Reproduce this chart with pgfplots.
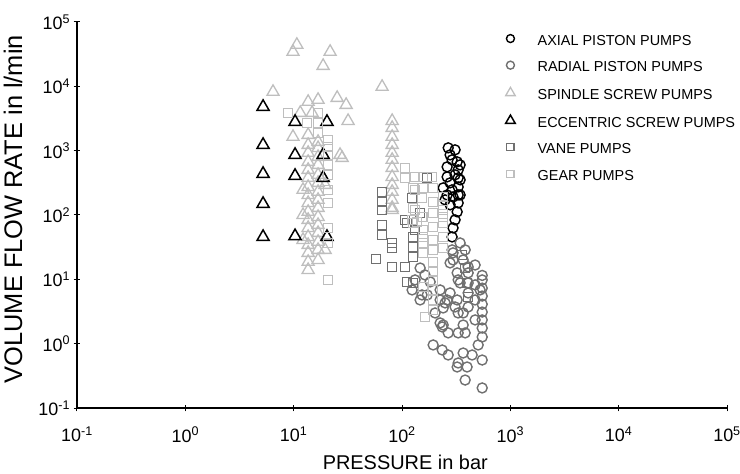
\documentclass[border=0pt]{standalone}
\usepackage{fontspec}
\setmainfont{Liberation Sans}
\usepackage{pgfplots}
\pgfplotsset{compat=1.18}

\definecolor{darkg}{HTML}{707070}
\definecolor{lightg}{HTML}{BEBEBE}

% pressure in bar, flow rate in l/min
\pgfplotstableread{
p q
267 1106
278 860
323 670
330 503
330 378
330 273
330 205
330 154
323 112
309 84
296 63
290 45.6
261 560
261 391
240 264
261 205
278 316
290 246
309 421
250 172
278 144
296 191
344 352
344 205
344 601
290 720
309 1030
}\axial

\pgfplotstableread{
p q
124 6.84
153 5.72
132 9.80
163 11.7
147 15.0
225 6.84
225 4.78
240 3.59
261 4.78
225 2.10
235 1.82
267 1.47
194 0.955
235 0.798
267 0.667
323 0.434
296 25.8
278 18.0
330 9.80
323 4.78
330 3.00
330 1.47
330 0.501
344 36.8
383 28.7
367 20.0
408 15.6
408 12.6
408 8.80
408 6.14
408 3.72
367 3.00
367 1.95
383 1.47
367 0.716
399 0.434
383 0.272
290 28.7
296 20.0
323 12.6
344 8.80
278 6.14
250 4.30
309 3.72
202 3.00
240 1.95
171 5.72
147 4.78
182 9.12
473 16.7
473 8.2
473 4.78
473 2.34
526 6.84
550 11.5
550 9.80
550 7.3
550 5.5
550 4.1
550 3.1
550 2.34
550 1.75
550 1.27
550 0.557
550 0.205
505 0.955
444 0.667
}\radial

\pgfplotstableread{
p q
10.7 44200
9.86 34400
21.7 34400
18.7 20800
6.45 8210
65.5 9820
13.6 5740
16.8 6170
25.2 6620
30.5 5150
31.8 2900
11.5 3870
14.8 3870
9.86 1640
13.6 1760
13.6 1230
16.8 1370
16.8 1100
26.8 860
28.0 773
13.6 925
13.6 670
13.6 503
13.6 378
13.6 273
13.6 205
13.6 154
13.6 112
13.6 84
13.6 63
13.6 45.6
13.6 34.3
13.6 25.8
13.6 18.7
13.6 14.0
16.8 800
16.8 601
16.8 421
16.8 316
16.8 229
16.8 172
16.8 129
16.8 93.4
16.8 70.2
16.8 52.7
16.8 38.3
16.8 28.7
16.8 20.0
12.2 246
12.2 100
12.2 41
19.5 294
19.5 28.7
81.1 2900
81.1 2260
81.1 1640
81.1 1230
81.1 925
81.1 720
81.1 540
81.1 391
81.1 294
81.1 229
81.1 172
81.1 129
81.1 120
}\spindle

\pgfplotstableread{
p q
5.22 4800
5.22 1230
5.22 436
5.22 149
5.22 45.6
10.3 2800
10.3 860
10.3 406
10.3 47
20.3 2800
18.7 860
18.7 378
20.3 45.6
}\eccentric

\pgfplotstableread{
p q
65.5 229
65.5 160
65.5 120
65.5 70.2
65.5 49.0
81.1 36.8
81.1 30.8
57.7 20.7
81.1 15.6
107 15.6
111 9.12
127 8.80
124 184
111 75.4
127 45.6
127 31.9
127 22.3
171 378
147 108
107 83.9
132 58.6
359 24.0
383 15.0
399 8.8
408 5.32
}\vane

\pgfplotstableread{
p q
8.87 3870
13.3 2710
16.8 3870
16.8 2710
16.8 1890
20.8 1470
20.8 1150
20.8 860
20.8 601
20.8 421
20.8 246
20.8 154
20.8 63
20.8 36.8
20.8 9.8
107 541
132 391
157 391
190 391
240 191
132 246
157 264
194 264
194 160
132 120
240 120
157 93.4
194 108
240 75.4
194 65.3
157 58.6
127 75.4
240 45.6
194 41.0
157 36.8
194 28.7
240 30.8
194 18.7
194 13.1
157 7.62
194 9.80
194 6.84
194 4.78
194 3.34
163 2.60
240 144
240 93.4
138 78.2
107 378
127 264
153 184
127 129
153 93.4
124 83.9
157 45.6
157 25.8
}\gear

\pgfplotsset{
    legmark/.style={legend image code/.code={
        \path (-6bp,-1bp) (27bp,1bp);
        \draw[##1, mark size=#1] plot coordinates {(0bp,2.6bp)};}},
}

\begin{document}
\begin{tikzpicture}
\begin{axis}[
    scale only axis,
    width=650bp, height=386bp,
    xmode=log, ymode=log,
    xmin=0.1, xmax=100000, ymin=0.1, ymax=100000,
    axis lines=left,
    axis line style={-, line width=1.2bp},
    xminorticks=false, yminorticks=false,
    tick align=center,
    major tick length=7bp,
    tick style={black, line width=1bp},
    xtick={0.1,1,10,100,1000,10000,100000},
    ytick={0.1,1,10,100,1000,10000,100000},
    xticklabels={10\textsuperscript{-1},10\textsuperscript{0},10\textsuperscript{1},10\textsuperscript{2},10\textsuperscript{3},10\textsuperscript{4},10\textsuperscript{5}},
    yticklabels={10\textsuperscript{-1},10\textsuperscript{0},10\textsuperscript{1},10\textsuperscript{2},10\textsuperscript{3},10\textsuperscript{4},10\textsuperscript{5}},
    ticklabel style={font=\fontsize{18}{20}\selectfont},
    xticklabel style={yshift=-12bp},
    xlabel={PRESSURE in bar},
    ylabel={VOLUME FLOW RATE in l/min},
    every axis x label/.style={at={(axis description cs:0.505,-0.14)}, anchor=center, font=\fontsize{20}{22}\selectfont},
    every axis y label/.style={at={(axis description cs:-0.0985,0.515)}, anchor=center, rotate=90, font=\fontsize{25.5}{28}\selectfont},
    legend style={at={(axis description cs:0.657,0.969)}, anchor=north west, draw=none, fill=none,
        inner sep=0pt, font=\fontsize{14.5}{16}\selectfont, row sep=12.6bp,
        nodes={inner sep=0pt, text height=11bp, text depth=3bp}},
    legend cell align=left,
]
\addplot[only marks, black, mark=o, mark size=5bp, mark options={line width=1.4bp}, legmark=4bp] table {\axial};
\addlegendentry{AXIAL PISTON PUMPS}
\addplot[only marks, darkg, mark=o, mark size=5bp, mark options={line width=1.4bp}, legmark=4bp] table {\radial};
\addlegendentry{RADIAL PISTON PUMPS}
\addplot[only marks, lightg, mark=triangle, mark size=7bp, mark options={line width=1.3bp}, legmark=5.5bp] table {\spindle};
\addlegendentry{SPINDLE SCREW PUMPS}
\addplot[only marks, black, mark=triangle, mark size=7bp, mark options={line width=1.5bp}, legmark=5.5bp] table {\eccentric};
\addlegendentry{ECCENTRIC SCREW PUMPS}
\addplot[only marks, darkg, mark=square, mark size=4.5bp, mark options={line width=1.3bp}, legmark=3.6bp] table {\vane};
\addlegendentry{VANE PUMPS}
\addplot[only marks, lightg, mark=square, mark size=4.5bp, mark options={line width=1.3bp}, legmark=3.6bp] table {\gear};
\addlegendentry{GEAR PUMPS}
\end{axis}
\pgfresetboundingbox
\path (-77bp,-66bp) rectangle (663bp,408bp);
\end{tikzpicture}
\end{document}
